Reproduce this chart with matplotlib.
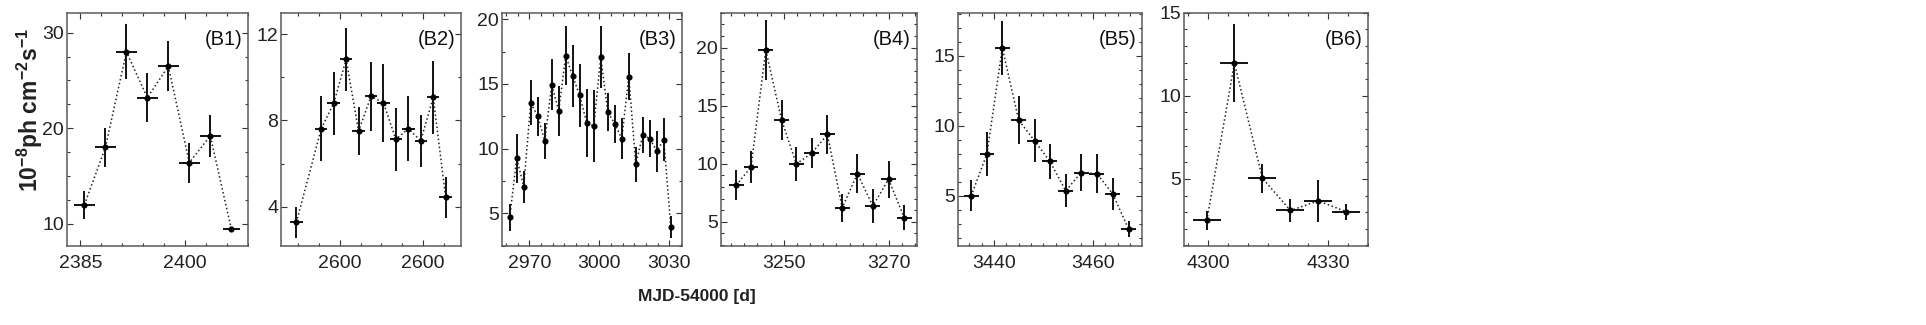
import matplotlib
matplotlib.use("Agg")
import matplotlib.pyplot as plt
from matplotlib.ticker import MultipleLocator, FixedLocator, FixedFormatter

plt.rcParams['font.family'] = ['Liberation Sans', 'DejaVu Sans']
plt.rcParams['mathtext.fontset'] = 'custom'
plt.rcParams['mathtext.rm'] = 'Liberation Sans'
plt.rcParams['mathtext.bf'] = 'Liberation Sans:bold'

# ---------------- data ----------------
b1_x = [2385.6, 2388.6, 2391.6, 2394.6, 2397.6, 2400.6, 2403.6, 2406.6]
b1_y = [12.0, 18.0, 28.0, 23.2, 26.5, 16.4, 19.2, 9.5]
b1_yerr = [1.47, 2.06, 2.88, 2.57, 2.62, 2.1, 2.2, 0.2]
b1_xerr = [1.5, 1.5, 1.5, 1.5, 1.5, 1.5, 1.5, 1.2]

b2_x = [2569.5, 2575.5, 2578.5, 2581.5, 2584.5, 2587.5, 2590.5, 2593.5,
        2596.5, 2599.5, 2602.5, 2605.5]
b2_y = [3.27, 7.62, 8.79, 10.83, 7.51, 9.12, 8.82, 7.12, 7.62, 7.06, 9.07, 4.43]
b2_yerr = [0.71, 1.5, 1.48, 1.45, 1.13, 1.59, 1.81, 1.48, 1.5, 1.2, 1.7, 0.97]
b2_xerr = [1.5] * 12

b3_x = [2961.6, 2964.6, 2967.6, 2970.6, 2973.6, 2976.6, 2979.6, 2982.6,
        2985.6, 2988.6, 2991.6, 2994.6, 2997.6, 3000.6, 3003.6, 3006.6,
        3009.6, 3012.6, 3015.6, 3018.6, 3021.6, 3024.6, 3027.6, 3030.6]
b3_y = [4.67, 9.26, 7.05, 13.54, 12.49, 10.59, 14.92, 12.9, 17.18, 15.59,
        14.1, 11.97, 11.72, 17.1, 12.82, 11.92, 10.77, 15.56, 8.77, 11.05,
        10.77, 9.79, 10.69, 3.92]
b3_yerr = [1.04, 1.9, 1.23, 1.73, 1.49, 1.38, 1.97, 1.96, 2.3, 2.4, 2.44,
           2.65, 2.77, 2.4, 1.5, 1.46, 1.56, 1.8, 1.36, 1.37, 1.44, 1.58,
           1.69, 0.83]
b3_xerr = [0.6] * 24

b4_x = [3241.0, 3243.8, 3246.6, 3249.6, 3252.4, 3255.3, 3258.3, 3261.1,
        3264.0, 3266.9, 3269.9, 3272.9]
b4_y = [8.16, 9.73, 19.79, 13.77, 9.99, 10.9, 12.52, 6.2, 9.16, 6.37, 8.65, 5.34]
b4_yerr = [1.27, 1.38, 2.54, 1.74, 1.44, 1.3, 1.67, 1.18, 1.64, 1.5, 1.57, 1.08]
b4_xerr = [1.4] * 12

b5_x = [3435.4, 3438.6, 3441.7, 3445.0, 3448.2, 3451.3, 3454.5, 3457.6,
        3460.8, 3464.0, 3467.2]
b5_y = [5.0, 7.99, 15.55, 10.4, 8.93, 7.46, 5.36, 6.66, 6.59, 5.14, 2.63]
b5_yerr = [1.11, 1.55, 1.9, 1.71, 1.53, 1.26, 1.18, 1.34, 1.4, 1.16, 0.58]
b5_xerr = [1.5] * 11

b6_x = [4299.7, 4306.6, 4313.6, 4320.6, 4327.6, 4334.6]
b6_y = [2.5, 11.96, 5.04, 3.1, 3.68, 3.02]
b6_yerr = [0.55, 2.35, 0.86, 0.68, 1.28, 0.47]
b6_xerr = [3.5] * 6

panel_labels = ["(B1)", "(B2)", "(B3)", "(B4)", "(B5)", "(B6)"]
x_ticks = [[2385, 2400], [2580, 2600], [2970, 3000, 3030], [3250, 3270],
           [3440, 3460], [4300, 4330]]
x_tick_labels = [["2385", "2400"], ["2600", "2600"], ["2970", "3000", "3030"],
                 ["3250", "3270"], ["3440", "3460"], ["4300", "4330"]]
y_ticks = [[10, 20, 30], [4, 8, 12], [5, 10, 15, 20], [5, 10, 15, 20],
           [5, 10, 15], [5, 10, 15]]

# ---------------- layout ----------------
W, H = 1926, 325
fig = plt.figure(figsize=(W / 100, H / 100), dpi=100)

px_boxes = [(67, 248), (281, 461), (502, 682), (721, 917), (958, 1142), (1184, 1368)]
top_px, bot_px = 12.7, 245.7
xlims = [(2383.1, 2409.0), (2565.8, 2609.2), (2958.3, 3035.4),
         (3238.1, 3275.3), (3432.75, 3469.9), (4294.0, 4340.0)]
ylims = [(7.7, 32.1), (2.19, 13.0), (2.49, 20.5), (2.95, 23.0),
         (1.45, 18.06), (0.98, 15.0)]
x_minor = [3, 5, 5, 2.5, 2.5, 5]
y_minor = [2.5, 2, 2.5, 1, 1, 1]

series = [
    (b1_x, b1_y, b1_xerr, b1_yerr),
    (b2_x, b2_y, b2_xerr, b2_yerr),
    (b3_x, b3_y, b3_xerr, b3_yerr),
    (b4_x, b4_y, b4_xerr, b4_yerr),
    (b5_x, b5_y, b5_xerr, b5_yerr),
    (b6_x, b6_y, b6_xerr, b6_yerr),
]

spine_col = '#5a5a5a'
for i, (xs, ys, xe, ye) in enumerate(series):
    l, r = px_boxes[i]
    ax = fig.add_axes([l / W, 1 - bot_px / H, (r - l) / W, (bot_px - top_px) / H])
    ax.plot(xs, ys, linestyle=':', color='#222222', lw=1.1, zorder=2)
    ax.errorbar(xs, ys, yerr=ye, xerr=xe, fmt='o', ms=3.4, color='black',
                ecolor='#111111', elinewidth=1.4, capsize=0, zorder=3)
    ax.set_xlim(*xlims[i])
    ax.set_ylim(*ylims[i])
    ax.xaxis.set_major_locator(FixedLocator(x_ticks[i]))
    ax.xaxis.set_major_formatter(FixedFormatter(x_tick_labels[i]))
    ax.set_yticks(y_ticks[i])
    ax.xaxis.set_minor_locator(MultipleLocator(x_minor[i]))
    ax.yaxis.set_minor_locator(MultipleLocator(y_minor[i]))
    ax.tick_params(which='both', direction='in', top=True, right=True,
                   color='#333333', width=0.8)
    ax.tick_params(which='major', length=4, labelsize=14, labelcolor='#222222')
    ax.tick_params(which='minor', length=2)
    ax.tick_params(axis='x', which='major', pad=6.5)
    ax.tick_params(axis='y', which='major', pad=2)
    for s in ax.spines.values():
        s.set_color(spine_col)
        s.set_linewidth(1.1)
    ax.text(0.97, 0.925, panel_labels[i], transform=ax.transAxes,
            ha='right', va='top', fontsize=14.5, color='#111111')

ylab = (r'$\mathbf{10^{-8}}$' + 'ph cm' + r'$\mathbf{^{-2}}$' + 's'
        + r'$\mathbf{^{-1}}$')
fig.text(30 / W, 1 - 110 / H, ylab, rotation=90, ha='center', va='center',
         fontsize=16.5, fontweight='bold', color='#222222')
fig.text(697 / W, 1 - 297 / H, 'MJD-54000 [d]', ha='center', va='center',
         fontsize=12.5, fontweight='bold', color='#222222')

fig.savefig('out.png', dpi=100)
